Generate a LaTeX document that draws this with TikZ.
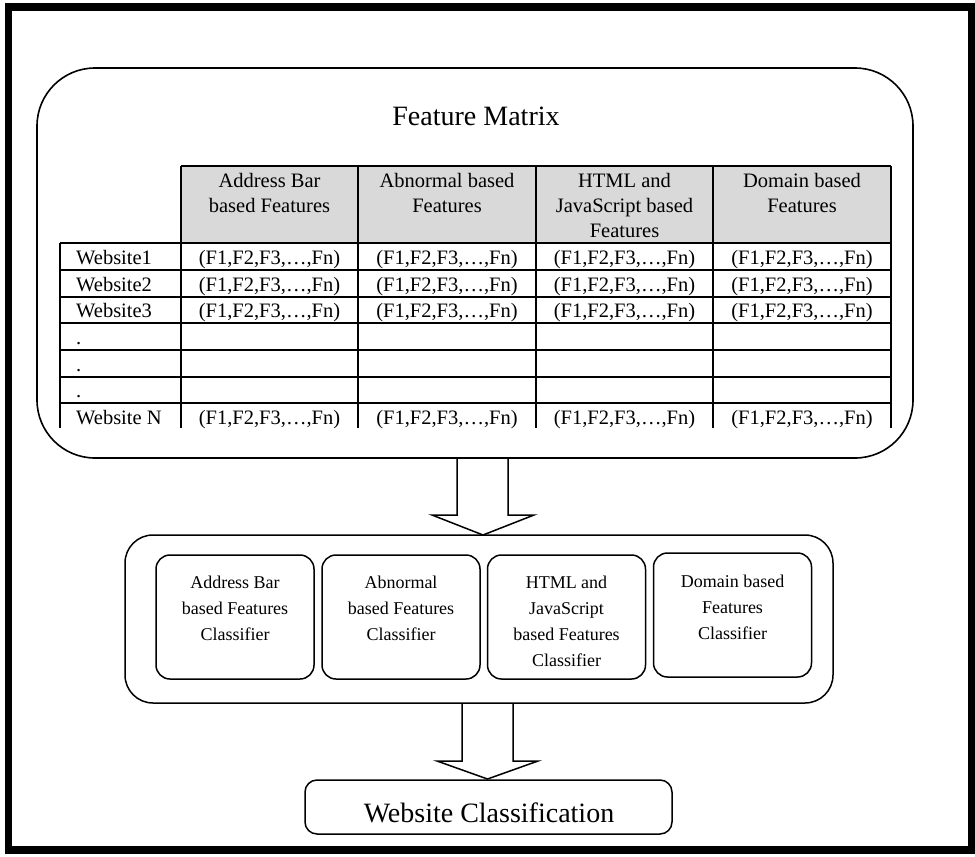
\documentclass[tikz,border=0pt]{standalone}
\usepackage{fontspec}
\setmainfont{Liberation Serif}
\begin{document}
\begin{tikzpicture}[x=1pt,y=-1pt,
  frame/.style={line width=7.5pt},
  bigbox/.style={draw, line width=1.6pt, inner sep=0pt},
  grid/.style={line width=1.2pt},
  hdr/.style={fill={rgb,255:red,217;green,217;blue,217}},
  htext/.style={anchor=north, align=center, inner sep=0pt, font=\fontsize{20.5}{25}\selectfont},
  ctext/.style={anchor=base, inner sep=0pt, font=\fontsize{20.5}{25}\selectfont},
  clbox/.style={draw, line width=1.5pt, rounded corners=14pt, minimum width=158pt, minimum height=124pt, inner sep=0pt},
  cltext/.style={anchor=north, align=center, inner sep=0pt, font=\fontsize{18}{26}\selectfont},
  blockarrow/.style={line width=1.5pt, line join=miter}
]
\useasboundingbox (0,0) rectangle (975,857);
\fill[white] (0,0) rectangle (975,857);
\draw[frame] (8.5,7) rectangle (972,850);

% Feature matrix container
\node (fm) [bigbox, rounded corners=58pt, minimum width=876pt, minimum height=390pt] at (475,263) {};
\node (title) [anchor=base, inner sep=0pt, font=\fontsize{28}{32}\selectfont] at (476,125) {Feature Matrix};

% header cells
\fill[hdr] (181,166) rectangle (891,243);
\draw[grid] (181,166) -- (891,166);
\foreach \y in {243,270,297,323,350,377,403} \draw[grid] (60,\y) -- (891,\y);
\draw[grid] (60,243) -- (60,428);
\foreach \x in {181,358,536,713,891} \draw[grid] (\x,166) -- (\x,428);

\node (h1) [htext] at (269.5,173.3) {Address Bar\\based Features};
\node (h2) [htext] at (447,173.3) {Abnormal based\\Features};
\node (h3) [htext] at (624.5,173.3) {HTML and\\JavaScript based\\Features};
\node (h4) [htext] at (802,173.3) {Domain based\\Features};

% row labels
\node (r1) [ctext, anchor=base west] at (76,264.5) {Website1};
\node (r2) [ctext, anchor=base west] at (76,291.5) {Website2};
\node (r3) [ctext, anchor=base west] at (76,317.5) {Website3};
\node (r4) [ctext, anchor=base west] at (76,344.5) {.};
\node (r5) [ctext, anchor=base west] at (76,371) {.};
\node (r6) [ctext, anchor=base west] at (76,397.5) {.};
\node (rN) [ctext, anchor=base west] at (76,424) {Website N};

\foreach \x [count=\c] in {269.5,447,624.5,802} {
  \node (d1\c) [ctext] at (\x,264.5) {(F1,F2,F3,…,Fn)};
  \node (d2\c) [ctext] at (\x,291.5) {(F1,F2,F3,…,Fn)};
  \node (d3\c) [ctext] at (\x,317.5) {(F1,F2,F3,…,Fn)};
  \node (dN\c) [ctext] at (\x,424) {(F1,F2,F3,…,Fn)};
}

% arrow 1
\draw[blockarrow] (457,458) -- (457,515) -- (432,515) -- (483,535) -- (534,515) -- (508,515) -- (508,458);

% classifier container
\node (cl) [bigbox, line width=1.5pt, rounded corners=28pt, minimum width=708pt, minimum height=168pt] at (479,619) {};
\node (c1) [clbox] at (235,617) {};
\node (c2) [clbox] at (401,617) {};
\node (c3) [clbox] at (566.5,617) {};
\node (c4) [clbox] at (732.5,615) {};
\node (t1) [cltext] at (235,575.5) {Address Bar\\based Features\\Classifier};
\node (t2) [cltext] at (401,575.5) {Abnormal\\based Features\\Classifier};
\node (t3) [cltext] at (566.5,575.5) {HTML and\\JavaScript\\based Features\\Classifier};
\node (t4) [cltext] at (732.5,574.5) {Domain based\\Features\\Classifier};

% arrow 2
\draw[blockarrow] (462,703) -- (462,761) -- (437,761) -- (487.5,779) -- (538,761) -- (513,761) -- (513,703);

% final box
\node (wc) [draw, line width=1.5pt, rounded corners=12pt, minimum width=367pt, minimum height=54pt, inner sep=0pt] at (488.5,807) {};
\node (wct) [anchor=base, inner sep=0pt, font=\fontsize{28}{32}\selectfont] at (489,822) {Website Classification};
\end{tikzpicture}
\end{document}
